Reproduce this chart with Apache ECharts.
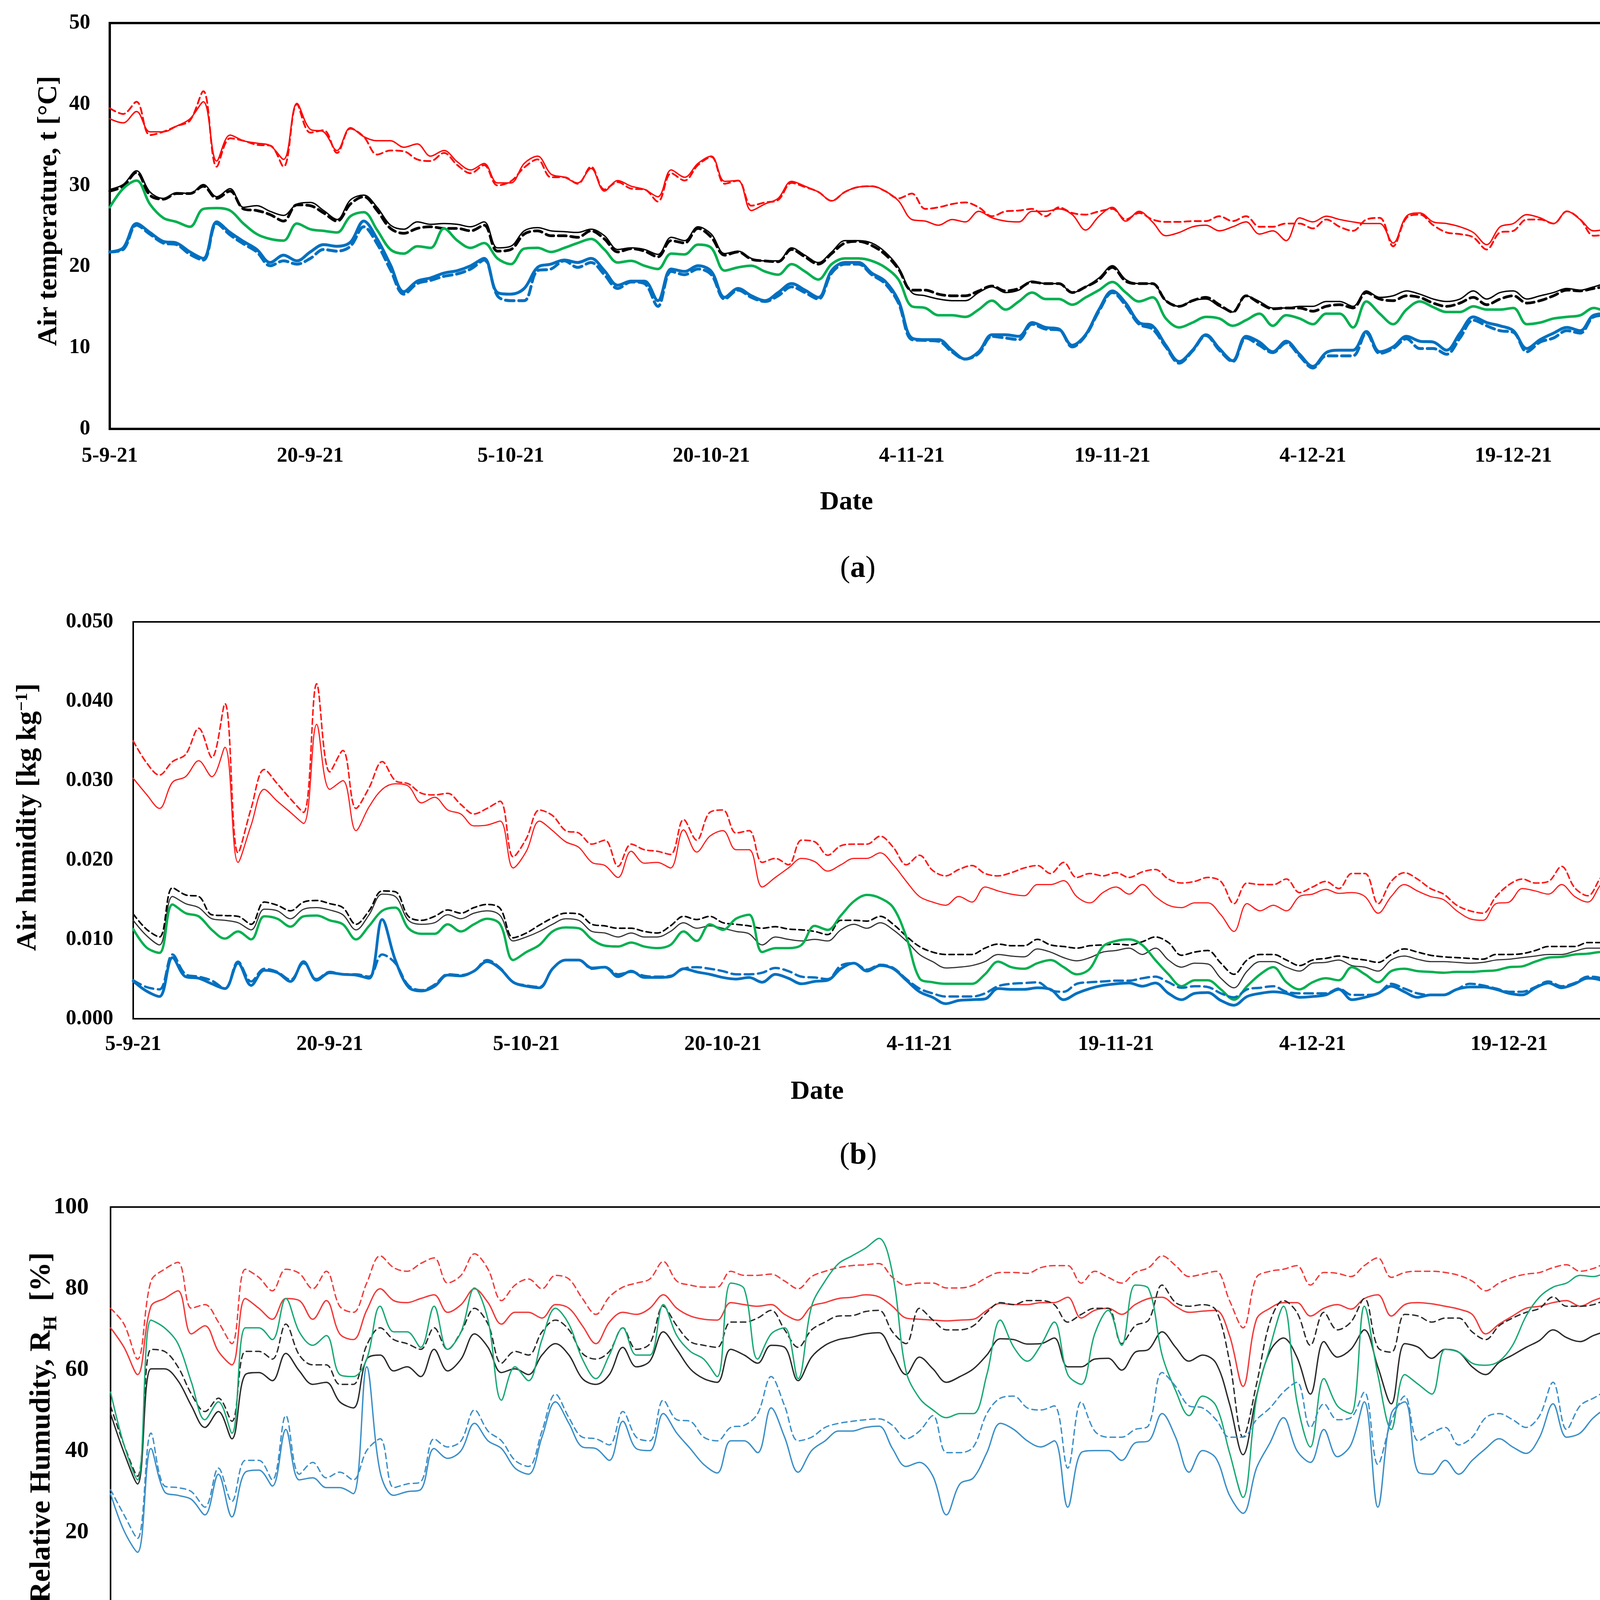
<!DOCTYPE html>
<html>
<head>
<meta charset="utf-8">
<script src="https://cdn.jsdelivr.net/npm/echarts/dist/echarts.min.js"></script>
<style>
  html, body { margin: 0; padding: 0; background: #fff; }
  #chart { width: 4364px; height: 4566px; }
</style>
</head>
<body>
<div id="chart"></div>
<script>
// x axis: one value per day, 5-9-21 (day 0) .. 31-12-21 (day 117)
const tickLabels = ['5-9-21', '20-9-21', '5-10-21', '20-10-21', '4-11-21', '19-11-21', '4-12-21', '19-12-21'];

// (a) air temperature [°C]
const aRedSolid = [
  38.2,37.7,39.1,36.6,36.6,37.3,38.2,40.3,33.0,36.2,
  35.5,35.2,34.9,33.2,40.1,36.9,36.6,34.3,37.1,36.0,
  35.5,35.5,34.7,35.1,33.6,34.3,32.9,31.9,32.7,30.3,
  30.3,32.7,33.6,31.4,31.0,30.3,32.1,29.3,30.6,29.9,
  29.5,28.6,31.9,31.0,32.7,33.6,30.5,30.6,26.9,27.7,
  28.4,30.5,29.9,29.2,28.1,29.2,29.8,29.9,29.3,28.1,
  25.8,25.6,25.1,25.8,25.5,26.8,26.0,25.6,25.5,26.8,
  26.8,27.1,26.4,24.5,26.2,27.3,25.6,26.8,25.5,23.8,
  24.2,24.9,25.1,24.4,24.9,25.5,24.0,24.4,23.2,26.0,
  25.5,26.2,25.8,25.5,25.3,25.3,22.9,26.2,26.6,25.5,
  25.3,24.9,24.2,22.7,24.9,25.3,26.4,26.0,25.3,26.8,
  25.8,24.4,24.9,27.7,28.8,27.3,26.9,21.9];
const aRedDash = [
  39.5,38.8,40.3,36.2,36.6,37.3,38.0,41.6,32.3,35.8,
  35.5,35.0,34.9,32.3,40.0,36.5,36.8,34.0,37.0,36.0,
  33.8,34.3,34.2,33.2,33.0,34.0,32.5,31.5,32.5,30.0,
  30.5,32.2,33.2,31.0,31.0,30.2,32.3,29.5,30.4,29.6,
  29.5,28.0,31.5,30.6,32.5,33.5,30.2,30.6,27.5,27.9,
  28.2,30.3,29.8,29.2,28.1,29.2,29.8,29.9,29.3,28.4,
  29.0,27.1,27.3,27.7,27.9,27.3,26.2,26.8,26.9,27.1,
  26.2,27.3,26.6,26.4,26.8,27.1,25.8,26.6,25.8,25.5,
  25.5,25.6,25.6,26.2,25.6,26.2,24.9,24.9,25.3,25.3,
  24.7,25.8,24.9,24.4,25.8,26.0,22.5,26.0,26.4,25.1,
  24.2,24.0,23.6,22.1,24.2,24.4,25.8,25.8,25.3,26.8,
  25.8,23.8,24.2,26.9,27.7,26.9,25.8,22.4];
const aBlackSolid = [
  29.5,30.1,31.8,29.2,28.4,29.1,29.0,30.1,28.6,29.6,
  27.3,27.5,26.8,26.3,27.7,27.9,26.9,25.8,28.2,28.8,
  27.3,25.1,24.6,25.5,25.2,25.3,25.2,24.9,25.5,22.3,
  22.5,24.4,24.8,24.4,24.3,24.2,24.6,23.8,22.1,22.3,
  22.1,21.5,23.6,23.2,24.9,24.0,21.6,21.9,21.0,20.7,
  20.7,22.3,21.4,20.5,21.8,23.2,23.2,22.9,21.8,19.9,
  16.8,16.4,16.0,15.8,15.8,16.8,17.5,16.8,17.1,18.2,
  17.9,17.9,16.8,17.5,18.6,20.1,18.4,17.9,17.9,15.8,
  15.1,15.8,16.0,15.1,14.4,16.4,15.7,14.9,14.9,15.1,
  15.1,15.7,15.7,15.1,17.0,16.2,16.4,17.0,16.6,16.0,
  15.7,16.0,17.0,16.0,16.8,17.0,16.0,16.4,16.8,17.3,
  17.1,17.5,17.9,17.7,17.5,16.4,16.8,13.8];
const aBlackDash = [
  29.3,29.9,31.6,28.8,28.3,29.0,29.0,29.9,28.4,29.3,
  27.1,26.9,26.4,25.6,27.6,27.5,26.6,25.6,27.7,28.6,
  26.9,24.7,24.1,24.7,24.9,24.7,24.7,24.4,25.1,21.9,
  22.1,24.0,24.4,23.8,23.8,23.6,24.4,23.4,21.8,22.2,
  21.9,21.2,23.2,22.9,24.7,23.6,21.4,21.8,20.9,20.7,
  20.6,22.1,21.2,20.3,21.6,22.9,23.1,22.6,21.5,19.7,
  17.1,17.1,16.6,16.4,16.4,17.0,17.6,17.0,17.3,18.1,
  17.9,17.9,16.8,17.5,18.4,19.9,18.2,17.9,17.9,15.8,
  15.1,15.8,16.2,15.3,14.4,16.4,15.5,14.8,14.9,14.9,
  14.5,15.1,15.3,14.9,16.8,16.0,15.8,16.4,16.2,15.5,
  15.1,15.5,16.2,15.3,16.0,16.4,15.5,15.8,16.4,17.1,
  17.0,17.3,17.5,17.3,17.1,15.8,16.2,14.2];
const aGreen = [
  27.3,29.6,30.6,27.7,26.0,25.5,24.9,27.1,27.2,26.9,
  25.3,24.0,23.4,23.2,25.3,24.6,24.4,24.2,26.2,26.7,
  24.5,22.1,21.6,22.5,22.3,24.7,23.2,22.3,22.9,21.0,
  20.3,22.2,22.3,21.8,22.3,22.9,23.4,22.1,20.5,20.7,
  20.1,19.7,21.6,21.5,22.7,22.3,19.5,19.9,20.1,19.4,
  19.0,20.3,19.4,18.4,20.3,21.0,21.0,20.7,19.9,18.4,
  15.1,14.9,14.0,14.0,13.8,14.7,15.8,14.7,15.7,16.8,
  16.0,16.0,15.3,16.2,17.1,18.1,16.8,15.7,16.2,13.6,
  12.5,13.1,13.8,13.6,12.7,13.4,14.2,12.7,14.0,13.6,
  12.9,14.2,14.2,12.5,15.7,14.2,12.9,14.7,15.7,15.0,
  14.4,14.4,15.1,14.7,14.7,14.9,12.9,13.1,13.6,13.8,
  14.0,14.9,14.4,14.0,13.4,13.1,12.9,11.4];
const aBlueSolid = [
  21.8,22.3,25.3,24.2,23.1,22.9,21.8,21.0,25.5,24.2,
  23.1,22.1,20.5,21.4,20.7,21.8,22.7,22.5,23.0,25.6,
  23.4,20.2,16.9,18.2,18.6,19.2,19.5,20.1,21.0,16.8,
  16.6,17.3,19.9,20.3,20.8,20.5,21.0,19.5,17.7,18.2,
  18.2,15.8,19.7,19.4,20.1,19.4,16.2,17.3,16.4,15.8,
  16.8,17.9,17.1,16.2,19.5,20.5,20.5,19.2,18.2,15.8,
  11.2,11.0,11.0,9.7,8.6,9.5,11.6,11.6,11.4,13.1,
  12.5,12.3,10.3,11.6,14.7,17.0,15.5,13.1,12.7,10.3,
  8.3,9.7,11.6,9.9,8.4,11.4,10.7,9.5,10.8,9.2,
  7.7,9.4,9.7,9.7,12.0,9.5,10.1,11.4,10.8,10.7,
  9.7,11.8,13.8,13.1,12.7,12.1,9.9,11.0,11.8,12.5,
  12.1,14.0,14.2,12.5,11.0,10.1,9.7,10.8];
const aBlueDash = [
  21.8,22.1,25.1,24.0,22.9,22.7,21.5,20.8,25.3,23.9,
  22.8,21.8,20.1,20.7,20.3,21.0,22.1,21.9,22.5,24.9,
  22.8,19.6,16.6,17.9,18.3,18.8,19.1,19.7,20.8,16.4,
  15.8,15.8,19.5,19.7,20.7,19.9,20.5,19.0,17.3,18.1,
  17.9,15.1,19.4,19.0,19.7,19.0,16.0,17.1,16.2,15.7,
  16.4,17.5,16.8,16.0,19.2,20.3,20.3,19.0,17.9,15.5,
  11.0,10.9,10.8,9.5,8.6,9.3,11.4,11.2,11.0,12.9,
  12.3,12.2,10.1,11.5,14.5,16.8,15.2,12.9,12.3,10.1,
  8.1,9.6,11.5,9.7,8.3,11.2,10.3,9.4,10.6,9.0,
  7.5,9.0,9.0,9.0,11.8,9.3,9.9,11.1,9.9,9.9,
  9.2,11.2,13.4,12.7,12.1,11.9,9.5,10.7,11.2,12.1,
  11.8,13.8,14.0,12.1,10.7,9.5,9.4,10.6];

// (b) air humidity [kg kg-1]
const bRedSolid = [
  30.3e-3,28.3e-3,26.5e-3,29.8e-3,30.5e-3,32.5e-3,30.5e-3,34.2e-3,19.7e-3,24.4e-3,
  28.9e-3,27.4e-3,26.0e-3,24.6e-3,37.1e-3,28.9e-3,30.0e-3,23.7e-3,26.7e-3,28.9e-3,
  29.6e-3,29.3e-3,27.2e-3,27.9e-3,26.3e-3,25.8e-3,24.3e-3,24.4e-3,24.9e-3,19.0e-3,
  21.1e-3,24.9e-3,23.7e-3,22.3e-3,21.6e-3,19.7e-3,19.3e-3,17.8e-3,21.1e-3,19.6e-3,
  19.7e-3,19.0e-3,23.8e-3,21.0e-3,23.0e-3,23.7e-3,21.3e-3,21.3e-3,16.6e-3,17.8e-3,
  19.0e-3,20.2e-3,19.8e-3,18.6e-3,19.4e-3,20.2e-3,20.2e-3,20.9e-3,19.4e-3,17.3e-3,
  15.4e-3,14.7e-3,14.3e-3,15.4e-3,14.7e-3,16.6e-3,16.1e-3,15.7e-3,15.5e-3,16.9e-3,
  16.9e-3,17.4e-3,15.4e-3,14.6e-3,15.9e-3,16.6e-3,15.7e-3,16.9e-3,15.4e-3,14.3e-3,
  14.0e-3,14.6e-3,14.6e-3,13.1e-3,11.0e-3,14.5e-3,13.6e-3,14.3e-3,13.6e-3,15.4e-3,
  15.7e-3,16.3e-3,15.8e-3,15.9e-3,15.4e-3,13.3e-3,15.4e-3,16.9e-3,16.1e-3,15.4e-3,
  15.0e-3,13.6e-3,12.6e-3,12.4e-3,14.5e-3,14.7e-3,16.4e-3,16.1e-3,15.7e-3,16.9e-3,
  15.4e-3,14.7e-3,16.9e-3,18.3e-3,19.0e-3,16.4e-3,16.6e-3,13.1e-3];
const bRedDash = [
  35.0e-3,32.3e-3,30.7e-3,32.4e-3,33.3e-3,36.6e-3,32.9e-3,39.7e-3,20.9e-3,26.5e-3,
  31.4e-3,29.6e-3,27.7e-3,26.0e-3,42.2e-3,31.1e-3,33.8e-3,26.5e-3,29.1e-3,32.4e-3,
  30.0e-3,29.6e-3,28.4e-3,28.2e-3,28.4e-3,27.0e-3,25.8e-3,26.5e-3,27.4e-3,20.4e-3,
  22.7e-3,26.3e-3,25.6e-3,23.7e-3,23.4e-3,22.0e-3,22.5e-3,19.2e-3,22.0e-3,21.3e-3,
  21.1e-3,20.7e-3,25.1e-3,22.5e-3,26.0e-3,26.3e-3,23.4e-3,23.7e-3,19.7e-3,20.2e-3,
  19.4e-3,22.5e-3,22.3e-3,20.6e-3,21.8e-3,22.0e-3,22.0e-3,23.0e-3,21.6e-3,19.4e-3,
  20.6e-3,18.7e-3,18.0e-3,18.8e-3,19.3e-3,18.3e-3,18.0e-3,18.4e-3,19.0e-3,19.3e-3,
  18.3e-3,19.7e-3,17.8e-3,18.3e-3,18.0e-3,18.4e-3,17.8e-3,18.5e-3,18.8e-3,17.6e-3,
  17.1e-3,17.3e-3,17.8e-3,17.3e-3,14.5e-3,17.1e-3,16.9e-3,16.9e-3,17.6e-3,15.9e-3,
  16.6e-3,17.3e-3,16.4e-3,18.3e-3,18.3e-3,14.5e-3,17.3e-3,18.4e-3,17.6e-3,16.4e-3,
  15.7e-3,14.3e-3,13.6e-3,13.3e-3,15.4e-3,16.9e-3,17.6e-3,17.1e-3,17.3e-3,19.2e-3,
  16.5e-3,15.5e-3,17.8e-3,19.4e-3,19.8e-3,17.3e-3,16.4e-3,14.5e-3];
const bBlackSolid = [
  12.4e-3,10.5e-3,9.3e-3,15.4e-3,14.5e-3,14.0e-3,12.6e-3,12.4e-3,12.1e-3,11.2e-3,
  13.8e-3,13.6e-3,12.6e-3,13.8e-3,14.0e-3,13.7e-3,13.1e-3,11.2e-3,13.1e-3,15.7e-3,
  15.4e-3,12.4e-3,11.9e-3,12.1e-3,13.1e-3,12.6e-3,13.3e-3,13.6e-3,13.0e-3,9.8e-3,
  10.3e-3,11.0e-3,11.9e-3,12.6e-3,12.4e-3,11.0e-3,10.8e-3,10.3e-3,10.8e-3,10.3e-3,
  10.3e-3,11.0e-3,12.1e-3,11.4e-3,11.7e-3,11.4e-3,11.0e-3,10.7e-3,9.3e-3,10.3e-3,
  10.0e-3,9.8e-3,10.0e-3,9.8e-3,11.2e-3,11.9e-3,11.4e-3,12.1e-3,11.2e-3,9.8e-3,
  8.1e-3,7.2e-3,6.4e-3,6.5e-3,6.7e-3,7.2e-3,8.1e-3,7.9e-3,7.8e-3,8.8e-3,
  8.4e-3,7.7e-3,7.3e-3,7.7e-3,8.4e-3,8.6e-3,8.9e-3,8.1e-3,8.9e-3,7.4e-3,
  6.5e-3,7.0e-3,6.9e-3,5.1e-3,3.9e-3,6.0e-3,7.2e-3,7.2e-3,6.5e-3,6.0e-3,
  7.0e-3,7.1e-3,7.4e-3,6.7e-3,6.5e-3,6.0e-3,7.4e-3,7.9e-3,7.5e-3,7.2e-3,
  7.2e-3,7.1e-3,7.0e-3,7.1e-3,7.4e-3,7.5e-3,7.7e-3,7.9e-3,8.1e-3,8.1e-3,
  8.5e-3,8.9e-3,8.9e-3,8.5e-3,8.0e-3,7.4e-3,7.5e-3,6.9e-3];
const bBlackDash = [
  13.2e-3,11.3e-3,10.3e-3,16.5e-3,15.6e-3,15.4e-3,13.1e-3,13.0e-3,12.9e-3,11.9e-3,
  14.7e-3,14.3e-3,13.6e-3,14.7e-3,14.9e-3,14.5e-3,14.0e-3,11.9e-3,13.6e-3,16.1e-3,
  16.0e-3,12.9e-3,12.4e-3,12.9e-3,13.7e-3,13.3e-3,14.0e-3,14.4e-3,13.9e-3,10.2e-3,
  10.8e-3,11.8e-3,12.7e-3,13.3e-3,13.2e-3,11.9e-3,11.7e-3,11.4e-3,11.4e-3,11.0e-3,
  10.8e-3,11.7e-3,12.9e-3,12.5e-3,12.9e-3,12.1e-3,11.9e-3,11.7e-3,11.4e-3,11.6e-3,
  11.3e-3,11.2e-3,11.0e-3,10.6e-3,12.4e-3,12.4e-3,12.3e-3,12.9e-3,11.9e-3,10.4e-3,
  9.1e-3,8.4e-3,8.1e-3,8.1e-3,8.1e-3,8.9e-3,9.4e-3,9.2e-3,9.2e-3,10.0e-3,
  9.3e-3,9.1e-3,8.9e-3,9.2e-3,9.3e-3,9.4e-3,9.3e-3,9.7e-3,10.3e-3,9.6e-3,
  8.0e-3,8.4e-3,8.6e-3,7.0e-3,5.6e-3,7.4e-3,8.1e-3,8.1e-3,7.4e-3,6.7e-3,
  7.4e-3,7.6e-3,7.9e-3,7.6e-3,7.4e-3,7.1e-3,8.1e-3,8.8e-3,8.4e-3,8.0e-3,
  7.8e-3,7.7e-3,7.6e-3,7.5e-3,8.1e-3,8.1e-3,8.2e-3,8.6e-3,9.1e-3,9.1e-3,
  9.1e-3,9.6e-3,9.6e-3,9.1e-3,8.6e-3,8.1e-3,8.0e-3,7.4e-3];
const bGreen = [
  11.3e-3,9.0e-3,8.3e-3,14.4e-3,13.3e-3,12.9e-3,11.2e-3,10.1e-3,11.0e-3,10.0e-3,
  12.9e-3,12.6e-3,11.6e-3,12.9e-3,13.0e-3,12.4e-3,11.9e-3,10.0e-3,11.7e-3,13.6e-3,
  14.0e-3,11.4e-3,10.7e-3,10.7e-3,11.9e-3,11.0e-3,11.9e-3,12.6e-3,11.9e-3,7.4e-3,
  8.4e-3,9.3e-3,11.0e-3,11.5e-3,11.4e-3,10.0e-3,9.2e-3,9.1e-3,9.6e-3,9.1e-3,
  8.9e-3,9.3e-3,11.0e-3,9.8e-3,11.9e-3,11.2e-3,12.6e-3,13.1e-3,8.4e-3,8.9e-3,
  8.9e-3,9.3e-3,11.7e-3,11.2e-3,13.0e-3,14.8e-3,15.6e-3,15.2e-3,14.0e-3,10.3e-3,
  5.1e-3,4.6e-3,4.4e-3,4.4e-3,4.4e-3,5.6e-3,7.2e-3,6.5e-3,6.3e-3,7.0e-3,
  7.4e-3,6.5e-3,5.6e-3,6.3e-3,9.1e-3,9.8e-3,10.0e-3,9.3e-3,7.4e-3,5.6e-3,
  4.1e-3,4.85e-3,4.85e-3,3.7e-3,2.4e-3,4.1e-3,5.6e-3,6.5e-3,4.6e-3,3.7e-3,
  4.6e-3,5.1e-3,4.85e-3,6.5e-3,5.6e-3,4.6e-3,6.0e-3,6.3e-3,6.0e-3,5.9e-3,
  5.8e-3,5.9e-3,5.9e-3,6.0e-3,6.1e-3,6.5e-3,6.6e-3,7.2e-3,7.7e-3,7.8e-3,
  8.1e-3,8.2e-3,8.4e-3,8.1e-3,7.4e-3,6.7e-3,6.5e-3];
const bBlueSolid = [
  4.75e-3,3.5e-3,2.8e-3,7.7e-3,5.3e-3,5.1e-3,4.4e-3,3.8e-3,7.0e-3,4.2e-3,
  6.1e-3,5.8e-3,4.7e-3,7.2e-3,4.85e-3,5.8e-3,5.6e-3,5.5e-3,5.1e-3,12.5e-3,
  7.4e-3,4.0e-3,3.5e-3,4.1e-3,5.5e-3,5.4e-3,6.0e-3,7.2e-3,6.3e-3,4.6e-3,
  4.1e-3,3.9e-3,6.3e-3,7.4e-3,7.4e-3,6.4e-3,6.5e-3,5.3e-3,6.0e-3,5.2e-3,
  5.2e-3,5.3e-3,6.3e-3,5.9e-3,5.6e-3,5.2e-3,5.0e-3,5.2e-3,4.6e-3,5.6e-3,
  5.1e-3,4.4e-3,4.7e-3,4.85e-3,6.3e-3,7.0e-3,6.0e-3,6.7e-3,6.3e-3,4.85e-3,
  3.4e-3,2.7e-3,1.9e-3,2.3e-3,2.4e-3,2.5e-3,3.8e-3,3.7e-3,3.7e-3,3.9e-3,
  3.7e-3,2.4e-3,3.2e-3,3.8e-3,4.2e-3,4.4e-3,4.5e-3,4.1e-3,4.5e-3,3.2e-3,
  2.4e-3,3.2e-3,3.3e-3,2.3e-3,1.7e-3,2.8e-3,3.2e-3,3.4e-3,3.2e-3,2.7e-3,
  2.8e-3,3.0e-3,3.7e-3,2.4e-3,2.7e-3,3.2e-3,4.1e-3,3.4e-3,2.7e-3,3.0e-3,
  3.0e-3,3.7e-3,4.0e-3,4.0e-3,3.7e-3,3.2e-3,3.0e-3,3.9e-3,4.5e-3,3.9e-3,
  4.4e-3,5.1e-3,4.85e-3,3.8e-3,2.8e-3,2.7e-3,3.0e-3,3.8e-3];
const bBlueDash = [
  4.85e-3,4.0e-3,3.7e-3,8.1e-3,5.6e-3,5.3e-3,4.8e-3,3.8e-3,7.2e-3,4.7e-3,
  6.3e-3,5.9e-3,4.9e-3,7.0e-3,5.0e-3,5.9e-3,5.6e-3,5.6e-3,5.3e-3,8.1e-3,
  7.0e-3,4.2e-3,3.6e-3,4.3e-3,5.6e-3,5.5e-3,6.0e-3,7.4e-3,6.4e-3,4.6e-3,
  4.2e-3,4.0e-3,6.3e-3,7.4e-3,7.4e-3,6.3e-3,6.5e-3,5.6e-3,5.9e-3,5.4e-3,
  5.3e-3,5.4e-3,6.3e-3,6.5e-3,6.3e-3,6.0e-3,5.6e-3,5.6e-3,5.8e-3,6.4e-3,
  6.0e-3,5.3e-3,5.2e-3,5.0e-3,6.7e-3,7.0e-3,6.2e-3,6.8e-3,6.4e-3,5.0e-3,
  3.8e-3,3.2e-3,2.8e-3,2.8e-3,2.8e-3,3.2e-3,4.1e-3,4.4e-3,4.5e-3,4.6e-3,
  3.6e-3,3.4e-3,4.4e-3,4.6e-3,4.7e-3,4.8e-3,4.8e-3,5.1e-3,5.3e-3,4.6e-3,
  3.9e-3,4.1e-3,4.0e-3,3.2e-3,2.7e-3,3.7e-3,3.9e-3,4.1e-3,3.4e-3,3.2e-3,
  3.2e-3,3.2e-3,3.8e-3,3.0e-3,3.0e-3,3.2e-3,4.4e-3,3.8e-3,3.2e-3,3.0e-3,
  3.0e-3,3.7e-3,4.4e-3,4.2e-3,3.8e-3,3.4e-3,3.4e-3,4.0e-3,4.7e-3,4.1e-3,
  4.5e-3,5.3e-3,5.1e-3,3.9e-3,3.0e-3,2.9e-3,3.2e-3,3.8e-3];

// (c) relative humidity [%]
const cRedSolid = [
  70.3,65.5,58.8,75.6,77.5,79.4,68.8,70.8,64.5,61.2,
  77.5,75.1,72.4,77.5,77.0,72.4,77.0,68.8,67.4,74.6,
  79.9,77.0,76.5,77.5,78.4,74.1,76.0,79.9,76.5,71.2,
  74.1,74.1,72.7,76.0,75.1,70.8,66.4,71.7,74.1,73.6,
  75.1,78.4,75.1,73.2,72.4,72.2,76.5,76.0,75.6,76.0,
  73.6,72.2,75.6,76.5,77.5,77.8,78.4,77.9,75.6,72.7,
  72.4,72.2,72.0,72.2,72.4,74.6,76.3,76.0,76.0,76.5,
  76.5,77.8,72.7,74.6,75.1,73.6,76.0,77.5,77.8,75.6,
  74.1,74.4,74.6,68.4,55.9,72.4,75.1,76.5,76.5,73.2,
  75.1,76.0,74.9,77.5,78.4,73.2,76.0,76.5,76.2,75.6,
  74.9,73.6,68.8,71.2,73.2,75.1,75.6,76.5,77.0,75.6,
  77.0,78.1,78.4,76.0,73.2,72.2,75.1,79.4];
const cRedDash = [
  75.1,71.2,62.6,81.8,84.7,86.4,75.1,76.0,71.7,66.4,
  84.7,82.7,79.4,84.7,83.7,79.9,84.2,75.6,74.1,81.3,
  88.0,85.1,84.2,86.1,87.5,81.3,83.2,88.5,84.7,77.0,
  80.8,82.3,79.9,83.2,82.3,77.5,73.6,77.9,80.3,81.3,
  82.3,86.6,81.8,80.8,80.3,80.3,84.2,83.2,83.2,83.5,
  81.8,79.9,82.9,84.2,85.1,85.6,85.8,86.1,82.7,80.8,
  81.3,81.3,80.1,80.1,80.8,82.7,83.9,83.9,83.7,85.1,
  85.6,85.6,81.3,84.2,82.7,81.3,83.9,85.1,88.0,85.6,
  82.9,83.5,84.2,77.0,70.3,82.7,84.2,84.7,85.6,80.8,
  83.9,83.7,82.9,85.6,87.5,82.7,83.9,84.2,84.2,83.9,
  83.2,81.8,79.4,81.3,82.7,83.5,83.9,85.1,85.8,84.2,
  84.9,86.1,86.1,84.7,80.8,79.9,82.3,86.8];
const cBlackSolid = [
  49.2,39.6,31.9,60.2,60.2,57.3,51.1,45.8,49.7,43.0,
  58.8,59.3,57.3,64.0,59.7,56.4,56.9,52.1,50.6,62.6,
  63.6,59.7,60.7,58.3,65.0,59.7,62.6,68.8,65.5,59.3,
  60.2,58.8,63.6,66.4,63.6,57.8,56.4,58.8,65.5,60.7,
  62.1,69.3,65.0,60.2,57.8,56.9,65.0,63.6,61.6,66.0,
  65.5,57.3,63.1,66.0,67.4,68.0,68.8,69.1,64.0,58.8,
  63.1,60.2,56.9,58.3,60.2,63.6,67.6,67.4,66.3,66.4,
  67.8,60.7,60.7,62.6,62.8,59.9,64.3,65.0,69.3,65.5,
  62.1,63.6,61.6,51.6,39.1,53.5,64.5,67.8,63.1,54.0,
  66.9,63.1,65.0,69.8,60.7,51.6,66.4,65.5,62.8,65.0,
  64.3,60.7,58.8,61.8,63.6,65.5,67.2,69.8,67.9,66.9,
  68.4,69.5,70.3,67.4,64.0,62.4,66.0,70.3];
const cBlackDash = [
  51.1,41.5,33.8,65.0,64.5,60.7,54.0,49.7,53.0,47.3,
  64.5,64.5,62.6,71.2,63.6,61.2,61.2,56.4,56.4,66.0,
  70.3,67.4,66.4,65.0,70.3,65.0,69.3,75.1,71.2,61.6,
  64.5,63.6,69.3,72.2,69.8,64.0,62.6,64.5,70.3,65.0,
  66.4,75.6,70.8,66.9,66.0,65.5,71.7,71.7,72.7,74.6,
  69.8,65.5,69.8,71.7,73.2,73.3,74.3,74.6,69.3,66.4,
  75.1,72.2,69.8,69.8,70.8,74.1,76.5,76.0,77.0,77.0,
  76.0,71.7,73.6,75.1,75.1,66.4,70.8,72.2,80.8,76.5,
  75.6,76.0,74.6,62.1,43.4,56.4,71.7,77.0,74.1,66.0,
  74.1,69.8,71.7,77.5,65.5,64.3,73.6,73.2,71.7,72.7,
  72.7,69.3,67.4,70.8,72.7,74.1,75.1,77.9,75.6,75.6,
  76.0,77.2,77.5,74.6,71.2,69.8,74.1,77.0];
const cGreen = [
  54.5,41.5,32.9,72.2,70.3,66.4,56.9,47.7,52.1,44.4,
  70.3,70.3,67.4,77.5,69.3,66.0,68.4,58.8,58.3,62.6,
  75.6,69.3,69.3,65.5,75.6,65.0,69.3,80.1,72.2,52.5,
  60.7,57.3,67.4,75.1,71.2,62.6,57.8,63.6,70.3,63.6,
  63.6,76.0,68.4,64.5,62.6,58.3,81.3,79.9,62.6,68.8,
  70.3,57.8,75.6,81.8,86.1,88.0,89.9,92.3,83.7,59.7,
  53.0,50.1,48.2,49.2,49.2,58.8,72.2,65.5,62.1,66.0,
  71.7,58.8,56.4,68.8,74.6,66.0,80.8,79.9,63.6,54.9,
  48.7,53.5,51.1,39.6,28.6,53.0,65.5,75.6,52.1,41.0,
  57.8,51.1,49.2,75.6,58.8,45.3,58.8,56.4,54.0,65.0,
  64.3,61.6,61.1,62.1,66.0,73.2,77.9,80.3,81.3,83.2,
  82.9,83.7,83.7,80.8,75.1,70.8,70.3];
const cBlueSolid = [
  29.5,20.4,15.1,40.6,30.0,29.1,28.1,24.3,34.3,23.8,
  34.8,35.3,31.4,45.3,32.9,33.4,31.0,31.0,29.5,60.7,
  34.8,29.1,30.0,30.5,40.6,38.2,40.1,46.8,42.5,40.6,
  35.8,34.3,43.4,52.1,46.8,41.0,40.6,37.7,47.3,40.6,
  40.1,49.2,44.4,40.6,36.7,34.6,42.5,42.5,39.6,50.6,
  43.4,34.8,40.1,42.5,44.9,44.9,45.8,46.1,40.6,36.2,
  37.2,33.8,24.3,31.9,33.4,39.6,46.8,45.3,42.5,41.0,
  42.5,26.2,39.6,40.1,40.1,37.7,42.0,42.5,49.2,43.4,
  34.8,40.1,38.2,29.1,24.7,35.8,42.0,48.2,40.1,37.2,
  45.3,38.6,41.5,52.1,26.2,49.2,52.1,34.8,34.3,37.7,
  34.3,37.7,40.6,43.0,41.0,39.4,43.4,51.6,43.4,44.4,
  48.2,50.1,49.2,42.0,35.8,35.3,42.0,47.3];
const cBlueDash = [
  30.5,24.3,18.5,44.4,31.4,31.0,30.0,26.2,35.8,27.6,
  37.7,37.7,32.9,48.7,34.3,37.2,33.4,34.8,32.9,40.1,
  43.0,31.0,31.9,32.4,43.0,41.0,42.5,50.1,44.9,42.5,
  37.7,36.2,44.9,54.0,48.2,43.4,43.0,41.5,49.7,43.4,
  42.5,52.5,47.7,47.3,43.4,42.5,45.8,46.3,49.2,58.3,
  51.1,42.5,43.4,45.8,46.8,47.3,47.7,47.9,46.3,43.0,
  44.9,48.7,39.6,39.6,41.0,49.2,53.0,53.5,50.6,50.1,
  51.1,35.8,52.1,44.9,43.4,43.4,45.3,46.3,59.3,55.9,
  51.1,50.6,47.7,43.4,43.4,47.7,50.6,54.5,56.9,45.8,
  51.6,47.7,48.2,54.5,36.7,47.3,53.5,42.5,44.4,45.8,
  41.5,43.4,48.2,49.2,47.7,45.8,48.7,56.9,45.3,51.1,
  53.0,54.5,53.5,46.3,41.0,40.6,46.3,48.7];

const FONT = 'Liberation Serif';
const chart = echarts.init(document.getElementById('chart'), null, { renderer: 'canvas' });

// one grid per sub-figure
const panels = [
  { left: 281, top: 59, width: 4004, height: 1039, max: 50, interval: 10, border: 6,
    ylab: v => String(v), ym: 50, xm: 43, fs: 54 },
  { left: 341, top: 1592, width: 3925, height: 1016, max: 0.05, interval: 0.01, border: 4,
    ylab: v => v.toFixed(3), ym: 51, xm: 39, fs: 54 },
  { left: 283, top: 3090, width: 4038, height: 1041, max: 100, interval: 20, border: 4,
    ylab: v => String(v), ym: 56, xm: 60, fs: 60 }
];

const grid = panels.map(p => ({
  left: p.left, top: p.top, width: p.width, height: p.height,
  show: true, borderColor: '#000', borderWidth: p.border, backgroundColor: 'transparent'
}));

const xAxis = panels.map((p, i) => ({
  type: 'value', gridIndex: i, min: 0, max: 117, interval: 15,
  axisLine: { show: false }, axisTick: { show: false }, splitLine: { show: false },
  axisLabel: {
    margin: p.xm, color: '#000', fontFamily: FONT, fontWeight: 'bold', fontSize: p.fs,
    formatter: v => (v % 15 === 0 && tickLabels[v / 15]) ? tickLabels[v / 15] : ''
  }
}));

const yAxis = panels.map((p, i) => ({
  type: 'value', gridIndex: i, min: 0, max: p.max, interval: p.interval,
  axisLine: { show: false }, axisTick: { show: false }, splitLine: { show: false },
  axisLabel: {
    margin: p.ym, color: '#000', fontFamily: FONT, fontWeight: 'bold', fontSize: p.fs,
    formatter: p.ylab
  }
}));

function line(gi, name, values, color, width, dash) {
  return {
    name: name, type: 'line', xAxisIndex: gi, yAxisIndex: gi,
    data: values.map((v, day) => [day, v]),
    showSymbol: false, smooth: 0.35, silent: true,
    lineStyle: { color: color, width: width, type: dash || 'solid', cap: 'round' }
  };
}

const series = [
  line(0, 'a-red', aRedSolid, '#ff0000', 3.5),
  line(0, 'a-red-dash', aRedDash, '#ff0000', 4.5, [16, 10]),
  line(0, 'a-black', aBlackSolid, '#000000', 3.5),
  line(0, 'a-black-dash', aBlackDash, '#000000', 7, [20, 12]),
  line(0, 'a-green', aGreen, '#00b050', 6.5),
  line(0, 'a-blue-dash', aBlueDash, '#0070c0', 7.5, [22, 12]),
  line(0, 'a-blue', aBlueSolid, '#0070c0', 7.5),

  line(1, 'b-red', bRedSolid, '#ff1a1a', 3),
  line(1, 'b-red-dash', bRedDash, '#ff1a1a', 4, [14, 9]),
  line(1, 'b-black', bBlackSolid, '#333333', 3),
  line(1, 'b-black-dash', bBlackDash, '#000000', 4, [14, 9]),
  line(1, 'b-green', bGreen, '#00b050', 6),
  line(1, 'b-blue-dash', bBlueDash, '#0070c0', 6, [22, 12]),
  line(1, 'b-blue', bBlueSolid, '#0070c0', 7),

  line(2, 'c-red', cRedSolid, '#f23a3a', 3.5),
  line(2, 'c-red-dash', cRedDash, '#f23a3a', 3.5, [14, 10]),
  line(2, 'c-black', cBlackSolid, '#2b2b2b', 3.5),
  line(2, 'c-black-dash', cBlackDash, '#2b2b2b', 3.5, [14, 10]),
  line(2, 'c-green', cGreen, '#19a974', 3.5),
  line(2, 'c-blue-dash', cBlueDash, '#3b8fc7', 3.5, [14, 10]),
  line(2, 'c-blue', cBlueSolid, '#3b8fc7', 3.5)
];

function label(x, y, text, size, rot, rich) {
  return {
    type: 'text', x: x, y: y, rotation: rot || 0, silent: true,
    style: {
      text: text, fill: '#000', fontFamily: FONT, fontWeight: 'bold', fontSize: size,
      align: 'center', verticalAlign: 'middle', rich: rich
    }
  };
}

const graphic = [
  label(126, 540, 'Air temperature, t [°C]', 70, Math.PI / 2),
  label(72, 2092, '{t|Air humidity [kg kg}{s|−1}{t|]}', 72, Math.PI / 2, {
    t: { fontFamily: FONT, fontWeight: 'bold', fontSize: 72, verticalAlign: 'bottom', fill: '#000' },
    s: { fontFamily: FONT, fontWeight: 'bold', fontSize: 44, verticalAlign: 'top', fill: '#000' }
  }),
  label(113, 3655, '{t|Relative Humudity, R}{s|H}{t|  [%]}', 75, Math.PI / 2, {
    t: { fontFamily: FONT, fontWeight: 'bold', fontSize: 75, verticalAlign: 'top', fill: '#000' },
    s: { fontFamily: FONT, fontWeight: 'bold', fontSize: 48, verticalAlign: 'top', padding: [38, 0, 0, 0], fill: '#000' }
  }),
  label(2167, 1286, 'Date', 68),
  label(2092, 2795, 'Date', 68),
  label(2183, 4335, 'Date', 68)
];

['a', 'b', 'c'].forEach((letter, i) => {
  const pos = [[2196, 1457], [2197, 2959], [2195, 4495]][i];
  graphic.push(label(pos[0], pos[1], '{n|(}{b|' + letter + '}{n|)}', 78, 0, {
    n: { fontFamily: FONT, fontWeight: 'normal', fontSize: 78, fill: '#000' },
    b: { fontFamily: FONT, fontWeight: 'bold', fontSize: 78, fill: '#000' }
  }));
});

chart.setOption({
  backgroundColor: '#ffffff',
  animation: false,
  grid: grid,
  xAxis: xAxis,
  yAxis: yAxis,
  series: series,
  graphic: graphic
});
</script>
</body>
</html>
